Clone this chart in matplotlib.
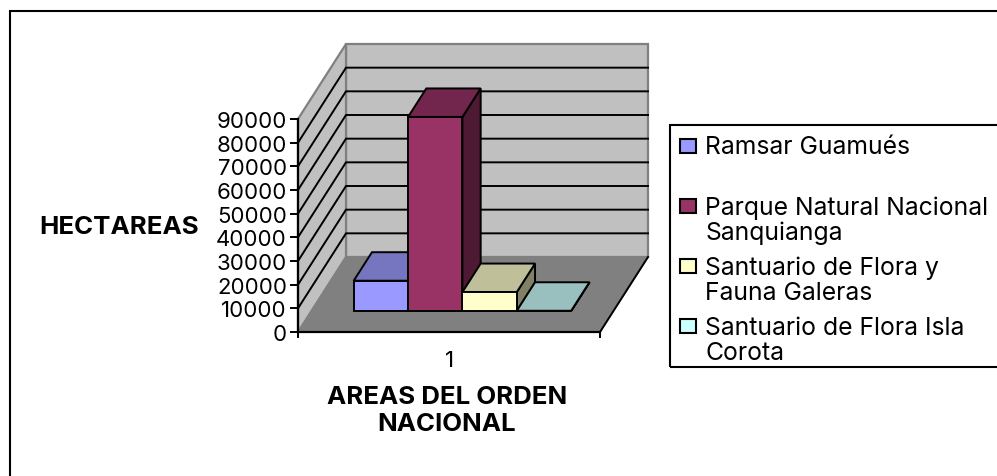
import matplotlib
matplotlib.use("Agg")
import matplotlib.pyplot as plt
from matplotlib.patches import Polygon, Rectangle
from matplotlib.legend_handler import HandlerPatch

plt.rcParams['font.family'] = ['Inter', 'Liberation Sans', 'DejaVu Sans']

W, H = 997, 477
series = ["Ramsar Guamués\n ", "Parque Natural Nacional\nSanquianga",
          "Santuario de Flora y\nFauna Galeras", "Santuario de Flora Isla\nCorota"]
values = [12800, 82000, 8000, 100]
y_ticks = [0, 10000, 20000, 30000, 40000, 50000, 60000, 70000, 80000, 90000]
category = ["1"]
y_title = "HECTAREAS"
x_title = "AREAS DEL ORDEN\nNACIONAL"
face = ["#9999FF", "#993366", "#FFFFCC", "#CCFFFF"]
top = ["#7676C0", "#73264D", "#BFBF99", "#99BFBF"]
side = ["#4D4D80", "#4D1933", "#808066", "#668080"]

fig = plt.figure(figsize=(W / 100, H / 100), dpi=100, facecolor="white")
ax = fig.add_axes([298 / W, (H - 333) / H, 302 / W, 213 / H])
ax.set_xlim(0, 1)
ax.set_ylim(0, 90000)
ax.patch.set_visible(False)

# oblique depth projection, expressed in data units
DX = 48 / 302
DY = 75 / 213 * 90000


def P(x, v, d):
    return (x + d * DX, v + d * DY)


def poly(pts, fc, ec="black", lw=1.4, z=1):
    ax.add_patch(Polygon(pts, closed=True, facecolor=fc, edgecolor=ec, linewidth=lw,
                         joinstyle="miter", clip_on=False, zorder=z))


vmax = y_ticks[-1]
GREY = "#808080"
poly([P(0, 0, 1), P(1, 0, 1), P(1, vmax, 1), P(0, vmax, 1)], "#C0C0C0", GREY, 1.6, 1)
poly([P(0, 0, 0), P(0, 0, 1), P(0, vmax, 1), P(0, vmax, 0)], "#C0C0C0", GREY, 1.6, 1)
poly([P(0, 0, 0), P(1, 0, 0), P(1, 0, 1), P(0, 0, 1)], "#808080", "#808080", 1.0, 1.1)
ax.plot(*zip(P(1, 0, 0), P(1, 0, 1)), color="black", lw=1.4, clip_on=False, zorder=1.2)

for t in y_ticks[1:-1]:
    ax.plot(*zip(P(0, t, 0), P(0, t, 1), P(1, t, 1)), color="black", lw=1.4,
            solid_joinstyle="miter", clip_on=False, zorder=1.2)

# bars
GAP = 0.14
D0, D1 = 0.28, 0.66
bw = (1 - 2 * GAP) / len(values)
handles = []
for i, v in enumerate(values):
    x0 = GAP + i * bw
    x1 = x0 + bw
    z = 2 + i * 0.1
    poly([P(x1, 0, D0), P(x1, 0, D1), P(x1, v, D1), P(x1, v, D0)], side[i], z=z)
    poly([P(x0, v, D0), P(x1, v, D0), P(x1, v, D1), P(x0, v, D1)], top[i], z=z)
    poly([P(x0, 0, D0), P(x1, 0, D0), P(x1, v, D0), P(x0, v, D0)], face[i], z=z)
    handles.append(Rectangle((0, 0), 1, 1, facecolor=face[i], edgecolor="black", linewidth=1.5))

for s in ("top", "right"):
    ax.spines[s].set_visible(False)
for s in ("left", "bottom"):
    ax.spines[s].set_linewidth(1.6)
    ax.spines[s].set_zorder(5)

FS = 16
LEG_FS = 17.8
BOLD_FS = 18.6
ax.set_yticks(y_ticks)
ax.set_yticklabels([str(t) for t in y_ticks])
ax.tick_params(axis="y", length=6, width=1.4, pad=2, labelsize=FS)
ax.set_xticks([0, 1])
ax.set_xticklabels(["", ""])
ax.set_xticks([0.5], minor=True)
ax.set_xticklabels(category, minor=True)
ax.tick_params(axis="x", which="major", length=4, width=1.4)
ax.tick_params(axis="x", which="minor", length=0, pad=13, labelsize=FS)

ax.set_ylabel(y_title, rotation=0, fontsize=BOLD_FS, fontweight="bold", ha="center", va="center")
ax.yaxis.set_label_coords((119 - 298) / 302, (333 - 228) / 213)
ax.set_xlabel(x_title, fontsize=BOLD_FS, fontweight="bold", ha="center", va="center", linespacing=1.25)
ax.xaxis.set_label_coords((447 - 298) / 302, (333 - 411) / 213)

leg = fig.legend(handles, series, loc="upper left",
                 bbox_to_anchor=(670 / W, 1 - 126 / H), bbox_transform=fig.transFigure,
                 borderaxespad=0, frameon=False,
                 fontsize=LEG_FS, handlelength=0.65, handleheight=0.49, handletextpad=0.36,
                 labelspacing=0.48, borderpad=0.42, ncols=1,
                 handler_map={Rectangle: HandlerPatch(ypad=1.13)})
for t in leg.get_texts():
    t.set_linespacing(1.1)

# legend box (its right side runs past the picture edge)
fig.add_artist(Rectangle((670 / W, 1 - 367.5 / H), 400 / W, 241.5 / H, transform=fig.transFigure,
                         facecolor="none", edgecolor="black", linewidth=1.5))
# outer chart frame
fig.add_artist(Rectangle((10 / W, 1 - 520 / H), 1100 / W, 508 / H, transform=fig.transFigure,
                         facecolor="none", edgecolor="black", linewidth=1.5))

fig.savefig("out.png", dpi=100)
